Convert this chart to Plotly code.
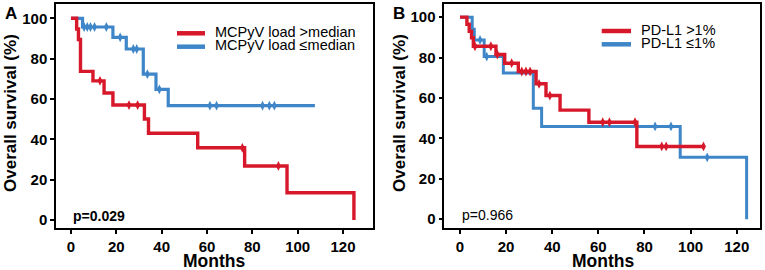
import plotly.graph_objects as go
import numpy as np

# ---------------- data ----------------
# Panel A: MCPyV load
a_hi_t = [0, 2.5, 3.3, 4.2, 9.7, 14.6, 18.5, 32.4, 34.2, 55.9, 76.6, 95.3, 124.8]
a_hi_s = [100, 94.7, 89.5, 73.7, 69.0, 63.0, 57.0, 50.1, 43.0, 35.8, 26.8, 13.5, 0]
a_hi_cens = [12.8, 25.6, 29.4, 75.6, 91.5]

a_lo_t = [0, 5.1, 18.5, 24.4, 31.9, 37.5, 42.9, 107.6]
a_lo_s = [100, 95.7, 90.6, 84.8, 72.3, 64.8, 56.7, 56.7]
a_lo_cens = [5.8, 7.2, 8.6, 10.4, 15.6, 21.7, 27.5, 29.0, 33.7, 39.0, 61.3, 64.2, 84.5, 87.5, 89.7]

# Panel B: PD-L1
b_hi_t = [0, 3.0, 4.0, 5.0, 5.8, 15.6, 19.4, 25.3, 33.0, 37.3, 43.4, 55.9, 76.7, 105.6]
b_hi_s = [100, 96.5, 93.0, 89.8, 85.6, 81.5, 77.2, 73.1, 67.0, 61.2, 54.0, 48.0, 36.0, 36.0]
b_hi_cens = [6.5, 13.4, 16.2, 22.4, 26.8, 28.6, 30.4, 34.3, 39.0, 61.9, 64.8, 75.9, 87.5, 89.4, 105.6]

b_lo_t = [0, 5.3, 6.2, 10.5, 18.8, 31.8, 35.4, 95.5, 124.3]
b_lo_s = [100, 94.0, 88.7, 80.5, 72.3, 54.9, 45.9, 30.6, 0]
b_lo_cens = [8.7, 11.6, 84.6, 91.5, 107.2]

x_ticks = [0, 20, 40, 60, 80, 100, 120]
y_ticks = [0, 20, 40, 60, 80, 100]

labels_a = ["MCPyV load >median", "MCPyV load \u2264median"]
labels_b = ["PD-L1 >1%", "PD-L1 \u22641%"]
p_a = "p=0.029"
p_b = "p=0.966"

RED = "#d7182a"
BLUE = "#3f86c9"
FONT = "Liberation Sans, Arial, sans-serif"


def surv_at(times, surv, t):
    idx = np.searchsorted(np.array(times), t, side="right") - 1
    return surv[max(idx, 0)]


fig = go.Figure()

def add_curve(times, surv, cens, color, width, xa, ya):
    fig.add_trace(go.Scatter(x=times, y=surv, mode="lines", line_shape="hv",
                             line=dict(color=color, width=width),
                             xaxis=xa, yaxis=ya, showlegend=False, hoverinfo="skip"))
    fig.add_trace(go.Scatter(x=cens, y=[surv_at(times, surv, c) for c in cens],
                             mode="markers",
                             marker=dict(symbol="diamond-tall", size=7, color=color),
                             xaxis=xa, yaxis=ya, showlegend=False, hoverinfo="skip"))

add_curve(a_lo_t, a_lo_s, a_lo_cens, BLUE, 3.2, "x", "y")
add_curve(a_hi_t, a_hi_s, a_hi_cens, RED, 3.4, "x", "y")
add_curve(b_lo_t, b_lo_s, b_lo_cens, BLUE, 3.0, "x2", "y2")
add_curve(b_hi_t, b_hi_s, b_hi_cens, RED, 3.4, "x2", "y2")

W, H = 765, 270
def px(x):
    return x / W
def py(y):
    return 1 - y / H

axis_common = dict(showline=True, linecolor="black", linewidth=1.5, mirror=True,
                   ticks="outside", ticklen=4, tickwidth=1.5, tickcolor="black",
                   showgrid=False, zeroline=False)
xfont = dict(family=FONT, size=15, color="black", weight="bold")
yfont = dict(family=FONT, size=15, color="black", weight="bold")

fig.update_layout(
    width=W, height=H, margin=dict(l=0, r=0, t=0, b=0),
    paper_bgcolor="white", plot_bgcolor="white",
    xaxis=dict(domain=[px(56), px(372.5)], range=[-6.6, 133.0], tickvals=x_ticks,
               anchor="y", tickfont=xfont, **axis_common),
    yaxis=dict(domain=[py(228.3), py(4)], range=[-4.1, 107.1], tickvals=y_ticks,
               anchor="x", tickfont=yfont, **axis_common),
    xaxis2=dict(domain=[px(444.3), px(760)], range=[-6.8, 130.1], tickvals=x_ticks,
                anchor="y2", tickfont=xfont, **axis_common),
    yaxis2=dict(domain=[py(228.3), py(4)], range=[-4.5, 106.5], tickvals=y_ticks,
                anchor="x2", tickfont=yfont, **axis_common),
    showlegend=False,
)

ann = []
shapes = []

def text(x, y, s, size, bold=False, xanchor="center", yanchor="middle", angle=0):
    ann.append(dict(x=px(x), y=py(y), xref="paper", yref="paper", text=s,
                    showarrow=False, xanchor=xanchor, yanchor=yanchor, textangle=angle,
                    font=dict(family=FONT, size=size, color="black",
                              weight="bold" if bold else "normal")))

# panel letters
text(11, 13, "A", 17, bold=True)
text(399, 13, "B", 17, bold=True)
# axis titles
text(10, 113, "Overall survival (%)", 17, bold=True, angle=-90)
text(399, 113, "Overall survival (%)", 17, bold=True, angle=-90)
text(214, 260.5, "Months", 17.5, bold=True)
text(603, 260.5, "Months", 17.5, bold=True)
# p values
text(71, 216, p_a, 14, bold=True, xanchor="left")
text(460, 215, p_b, 14, xanchor="left")

# legends
def legend_item(x0, x1, y, color, label):
    shapes.append(dict(type="line", xref="paper", yref="paper",
                       x0=px(x0), x1=px(x1), y0=py(y), y1=py(y),
                       line=dict(color=color, width=4.5)))
    text(x1 + 8, y - 1.5, label, 14.5, xanchor="left")

legend_item(177, 205, 33.3, RED, labels_a[0])
legend_item(177, 205, 46.7, BLUE, labels_a[1])
legend_item(601.7, 631, 31, RED, labels_b[0])
legend_item(601.7, 631, 44.3, BLUE, labels_b[1])

fig.update_layout(annotations=ann, shapes=shapes)

fig.write_html("out.html", config={"displayModeBar": False},
               post_script="document.body.style.margin='0';document.body.style.padding='0';")
